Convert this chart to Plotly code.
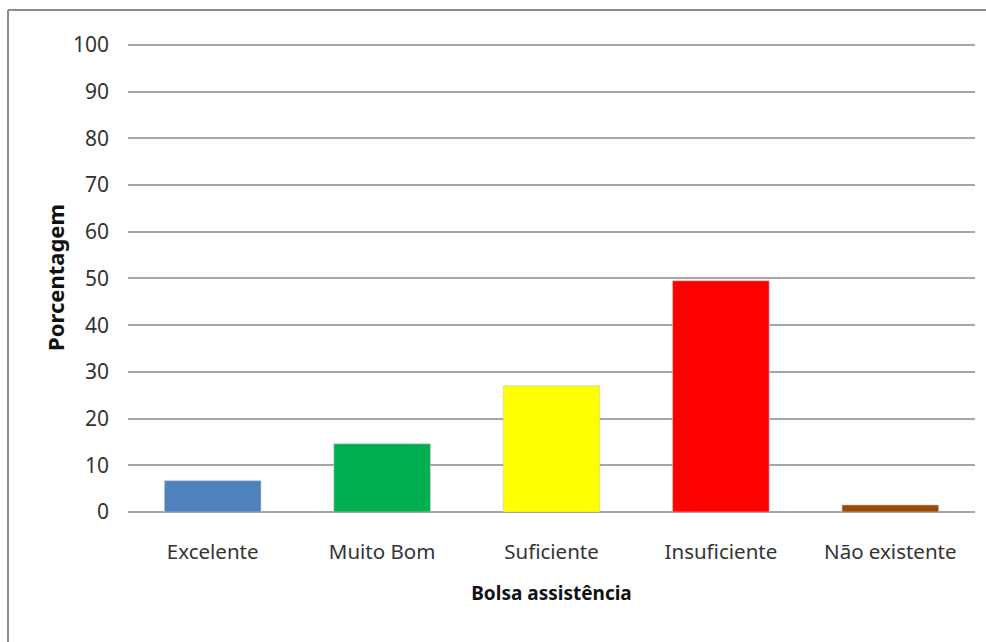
import plotly.graph_objects as go

categories = ["Excelente", "Muito Bom", "Suficiente", "Insuficiente", "Não existente"]
values = [6.7, 14.6, 27.0, 49.5, 1.5]
colors = ["#4f81bd", "#00b050", "#ffff00", "#ff0000", "#9c4a06"]
y_ticks = list(range(0, 101, 10))

FONT = "Liberation Sans Narrow, Noto Sans, sans-serif"

PH = 469  # plot-area height in px
PW = 847  # plot-area width in px

fig = go.Figure(go.Bar(
    x=categories, y=values,
    marker=dict(color=colors, line=dict(color="rgba(200,200,200,0.6)", width=1)),
))

fig.update_layout(
    width=986, height=642,
    margin=dict(l=128, r=11, t=43, b=130),
    paper_bgcolor="white", plot_bgcolor="white",
    bargap=0.43,
    showlegend=False,
    font=dict(family=FONT, color="#222222", size=18),
    xaxis=dict(
        title=dict(text="<b>Bolsa assistência</b>", font=dict(size=19, color="#111111"), standoff=23),
        tickfont=dict(size=20.5, color="#333333"),
        showgrid=False, showline=False, ticks="",
        ticklabelstandoff=25,
    ),
    yaxis=dict(
        title=dict(text="<b>Porcentagem</b>", font=dict(size=22, color="#111111"), standoff=2),
        range=[0, 100.4], tickvals=y_ticks,
        tickfont=dict(size=21, color="#333333"),
        showgrid=True, gridcolor="#a6a6a6", gridwidth=1.5,
        zeroline=True, zerolinecolor="#a6a6a6", zerolinewidth=1.5,
        showline=False, ticks="",
        ticklabelstandoff=18,
    ),
    shapes=[
        dict(type="line", xref="paper", yref="paper",
             x0=-120/PW, x1=-120/PW, y0=-130/PH, y1=502/PH,
             line=dict(color="#8c8c8c", width=2)),
        dict(type="line", xref="paper", yref="paper",
             x0=-120/PW, x1=858/PW, y0=502/PH, y1=502/PH,
             line=dict(color="#8c8c8c", width=2)),
    ],
)

fig.write_html("out.html")
